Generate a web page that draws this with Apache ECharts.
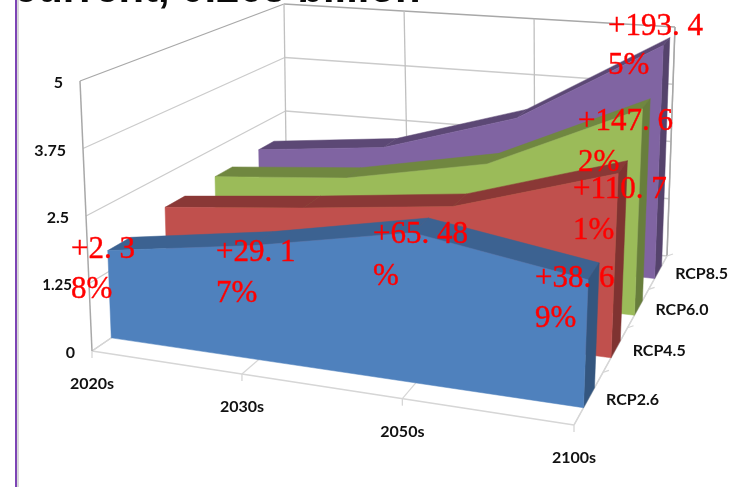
<!DOCTYPE html>
<html>
<head>
<meta charset="utf-8">
<style>html,body{margin:0;padding:0;background:#fff}#chart{width:744px;height:487px}</style>
<script src="https://cdn.jsdelivr.net/npm/echarts@6/dist/echarts.min.js"></script>
</head>
<body>
<div id="chart"></div>
<script>
// Projected population by decade and emission scenario, in billions
const decades = ['2020s', '2030s', '2050s', '2100s'];
const scenarios = ['RCP2.6', 'RCP4.5', 'RCP6.0', 'RCP8.5'];
const valueTicks = [0, 1.25, 2.5, 3.75, 5];
const rcp26 = [1.65, 2.1, 2.7, 2.25];
const rcp45 = [1.85, 2.15, 2.5, 3.45];
const rcp60 = [1.9, 2.15, 2.72, 4.1];
const rcp85 = [1.95, 2.25, 3.13, 4.9];
const titleText = 'current, 0.263 billion';

// Percentage notes, broken over two lines
const noteLines = [
  ['+2.3', '8%'], ['+29.1', '7%'], ['+65.48', '%'], ['+38.6', '9%'],
  ['+110.7', '1%'], ['+147.6', '2%'], ['+193.4', '5%']
];
const noteAnchors = [
  [71, 250, 290], [216, 253, 294], [373, 235, 277], [535, 279, 319],
  [573, 190, 231], [578, 122, 163], [608, 27, 66]
];

const fills = [
  { front: '#4f81bd', top: '#3c6291', side: '#34567f' },
  { front: '#c0504d', top: '#8a3836', side: '#7f3331' },
  { front: '#9bbb59', top: '#708740', side: '#687e3c' },
  { front: '#8064a2', top: '#5c4875', side: '#55436c' }
];
const seriesValues = [rcp26, rcp45, rcp60, rcp85];

// Plot box corners on screen: front-left, front-right, back-right, back-left
const floorQuad = [[92, 351], [574, 425], [667, 256], [287, 218]];
const roofQuad = [[80, 81], [584, 135], [675, 27], [284, 4]];
const bandHalfDepth = 0.19;
const decadeEase = 0.055;
const GRID = { left: 100, top: 100, width: 400, height: 200 };

function quadMap(q) {
  const [p0, p1, p2, p3] = q;
  const sx = p0[0] - p1[0] + p2[0] - p3[0], sy = p0[1] - p1[1] + p2[1] - p3[1];
  const dx1 = p1[0] - p2[0], dx2 = p3[0] - p2[0], dy1 = p1[1] - p2[1], dy2 = p3[1] - p2[1];
  const den = dx1 * dy2 - dx2 * dy1;
  const g = (sx * dy2 - dx2 * sy) / den, h = (dx1 * sy - sx * dy1) / den;
  const a = p1[0] - p0[0] + g * p1[0], b = p3[0] - p0[0] + h * p3[0], c = p0[0];
  const d = p1[1] - p0[1] + g * p1[1], e = p3[1] - p0[1] + h * p3[1], f = p0[1];
  return (u, w) => {
    const k = g * u + h * w + 1;
    return [(a * u + b * w + c) / k, (d * u + e * w + f) / k];
  };
}
const floorAt = quadMap(floorQuad), roofAt = quadMap(roofQuad);

// Turn a cartesian pixel from the hidden axes plus a depth into a screen point
function project(pixel, depth) {
  const raw = (pixel[0] - GRID.left) / GRID.width;
  const u = raw + decadeEase * raw * (1 - raw);
  const v = 1 - (pixel[1] - GRID.top) / GRID.height;
  const a = floorAt(u, depth), b = roofAt(u, depth);
  return [a[0] + (b[0] - a[0]) * v, a[1] + (b[1] - a[1]) * v];
}

function poly(points, fill) {
  return { type: 'polygon', shape: { points }, style: { fill, stroke: fill, lineWidth: 0.5 } };
}
function seg(a, b, color, width) {
  return { type: 'line', shape: { x1: a[0], y1: a[1], x2: b[0], y2: b[1] }, style: { stroke: color, lineWidth: width, fill: null } };
}
function label(text, pos, align, size) {
  return {
    type: 'text', x: pos[0], y: pos[1],
    style: { text, fill: '#111', font: 'bold ' + (size || 16) + 'px Lato', align, verticalAlign: 'middle' }
  };
}

// Walls, floor, tick marks and axis text
function renderFrame(params, api) {
  if (params.dataIndex !== 0) return null;
  const kids = [];
  const P = (i, val, depth) => project(api.coord([i, val]), depth);
  const last = decades.length - 1, gridCol = '#cbcbcb', edge = '#a8a8a8';
  valueTicks.forEach((t) => {
    const col = t === 5 ? edge : gridCol;
    kids.push(seg(P(0, t, 0), P(0, t, 1), col, 1.3));
    kids.push(seg(P(0, t, 1), P(last, t, 1), col, 1.3));
  });
  decades.forEach((d, i) => {
    kids.push(seg(P(i, 0, 0), P(i, 0, 1), '#d6d6d6', 1.2));
    kids.push(seg(P(i, 0, 1), P(i, 5, 1), '#c0c0c0', 1.3));
    const foot = P(i, 0, 0);
    kids.push(seg(foot, [foot[0], foot[1] + 7], '#d6d6d6', 1.3));
    kids.push(label(d, [foot[0], foot[1] + 33], 'center'));
  });
  kids.push(seg(P(0, 0, 0), P(last, 0, 0), '#d6d6d6', 1.5));
  kids.push(seg(P(last, 0, 0), P(last, 0, 1), '#d6d6d6', 1.5));
  kids.push(seg(P(0, 0, 0), P(0, 5, 0), edge, 1.5));
  kids.push(seg(P(last, 0, 1), P(last, 5, 1), edge, 1.5));
  scenarios.forEach((s, k) => {
    const tick = P(last, 0, (k + 1) / scenarios.length);
    kids.push(seg(tick, [tick[0] + 6, tick[1] - 2], '#d6d6d6', 1.3));
    const mid = P(last, 0, (k + 0.5) / scenarios.length);
    kids.push(label(s, [mid[0] + 17, mid[1] + 2], 'left'));
  });
  valueTicks.forEach((t) => {
    const p = P(0, t, 0);
    kids.push(label(String(t), [p[0] - 17, p[1] + 2], 'right', t === 1.25 ? 15 : 16));
  });
  return { type: 'group', children: kids };
}

// One scenario drawn as a thick sheet: front face, top strip and right end
function renderSheet(k) {
  return function (params, api) {
    if (params.dataIndex !== seriesValues[k].length - 1) return null;
    const vals = seriesValues[k], n = vals.length, c = fills[k];
    const dF = (k + 0.5 - bandHalfDepth) / scenarios.length;
    const dB = (k + 0.5 + bandHalfDepth) / scenarios.length;
    const P = (i, val, depth) => project(api.coord([i, val]), depth);
    const kids = [];
    const front = vals.map((v, i) => P(i, v, dF));
    front.push(P(n - 1, 0, dF), P(0, 0, dF));
    for (let i = 0; i < n - 1; i++) {
      kids.push(poly([P(i, vals[i], dF), P(i + 1, vals[i + 1], dF), P(i + 1, vals[i + 1], dB), P(i, vals[i], dB)], c.top));
    }
    kids.push(poly([P(n - 1, vals[n - 1], dF), P(n - 1, vals[n - 1], dB), P(n - 1, 0, dB), P(n - 1, 0, dF)], c.side));
    kids.push(poly(front, c.front));
    return { type: 'group', children: kids };
  };
}

const xAxis = { type: 'category', data: decades, boundaryGap: false, show: false };
const yAxis = { type: 'value', min: 0, max: 5, interval: 1.25, show: false };

const sheetSeries = seriesValues.map((vals, k) => ({
  type: 'custom',
  name: scenarios[k],
  coordinateSystem: 'cartesian2d',
  data: vals.map((v, i) => [i, v]),
  renderItem: renderSheet(k),
  clip: false,
  silent: true,
  z: 10 - k
}));

const noteGraphics = [];
noteLines.forEach((lines, i) => {
  const a = noteAnchors[i];
  lines.forEach((line, j) => {
    noteGraphics.push({
      type: 'text', x: a[0], y: a[j + 1], z: 100,
      style: { text: line.replace('.', '. '), fill: '#ff0000', stroke: '#ff0000', lineWidth: 0.4, font: '31px "Liberation Serif"', textVerticalAlign: 'middle' }
    });
  });
});

const chart = echarts.init(document.getElementById('chart'));
chart.setOption({
  animation: false,
  backgroundColor: '#ffffff',
  grid: GRID,
  xAxis,
  yAxis,
  graphic: [
    { type: 'rect', shape: { x: 17, y: 0, width: 2, height: 487 }, style: { fill: '#d9d9d9' }, z: 1 },
    { type: 'rect', shape: { x: 15, y: 0, width: 2, height: 487 }, style: { fill: '#7d45b5' }, z: 1 },
    {
      type: 'text', x: 14, y: 11, z: 100,
      style: { text: titleText, fill: '#0a0a0a', font: 'bold 41.8px "Liberation Sans"', textVerticalAlign: 'bottom' }
    }
  ].concat(noteGraphics),
  series: [{
    type: 'custom',
    coordinateSystem: 'cartesian2d',
    data: decades.map((d, i) => [i, 0]),
    renderItem: renderFrame,
    clip: false,
    silent: true,
    z: 1
  }].concat(sheetSeries)
});
</script>
</body>
</html>
